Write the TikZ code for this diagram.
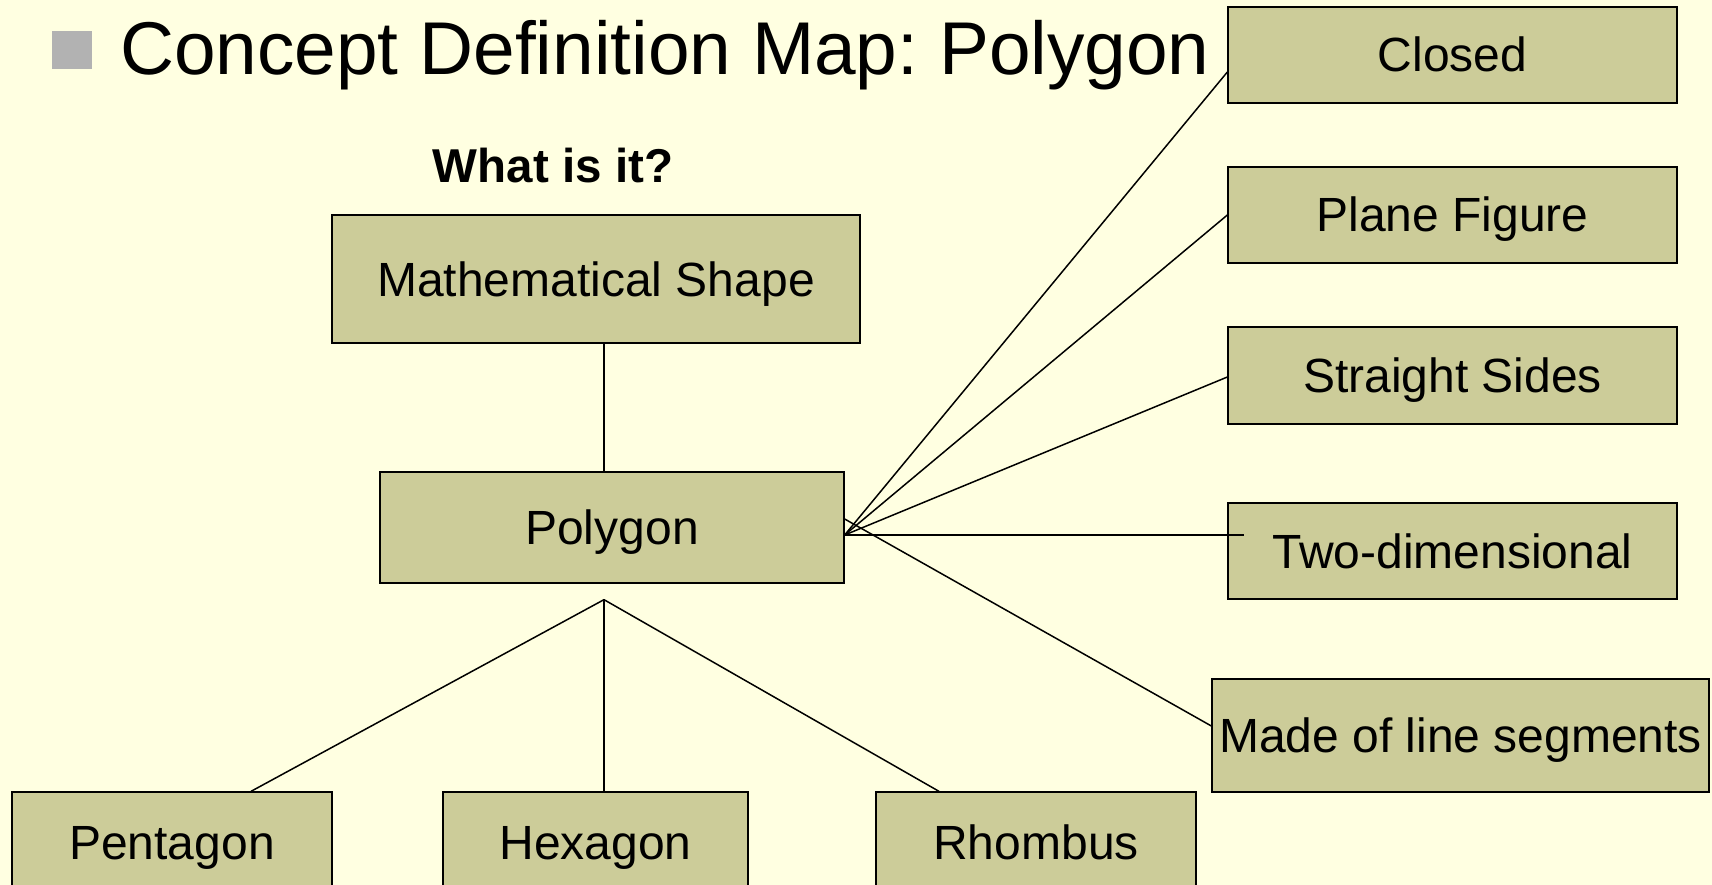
\documentclass[tikz,border=0pt]{standalone}
\usepackage{fontspec}
\setmainfont{Liberation Sans}
\frenchspacing
\definecolor{bgcol}{RGB}{255,255,225}
\definecolor{boxcol}{RGB}{204,204,153}
\definecolor{bulletcol}{RGB}{178,178,178}
\begin{document}
\begin{tikzpicture}[x=1pt,y=-1pt,
  box/.style={draw=black,line width=1.3pt,fill=boxcol,rectangle,inner sep=0pt,
    text height=34pt,text depth=0pt,
    font=\fontsize{48}{56}\selectfont,text=black},
  link/.style={draw=black,line width=1.5pt}]
\useasboundingbox (0,0) rectangle (1712,885);
\clip (0,0) rectangle (1712,885);
\fill[bgcol] (0,0) rectangle (1712,885);
% title
\fill[bulletcol] (52,31) rectangle (92,69);
\node[anchor=base west,inner sep=0pt,font=\fontsize{74.8}{88}\selectfont] (title) at (120,75) {Concept Definition Map: Polygon};
\node[anchor=base,inner sep=0pt,font=\fontsize{47.5}{54}\selectfont\bfseries] (what) at (553,183) {What is it?};
% boxes
\node[box,minimum width=528pt,minimum height=128pt] (math) at (596,279) {Mathematical Shape};
\node[box,minimum width=464pt,minimum height=111pt] (poly) at (612,527.5) {Polygon};
\node[box,minimum width=449pt,minimum height=96pt] (closed) at (1452.5,55) {Closed};
\node[box,minimum width=449pt,minimum height=96pt] (plane) at (1452.5,215) {Plane Figure};
\node[box,minimum width=449pt,minimum height=97pt] (straight) at (1452.5,375.5) {Straight Sides};
\node[box,minimum width=449pt,minimum height=96pt] (twod) at (1452.5,551) {Two-dimensional};
\node[box,minimum width=497pt,minimum height=113pt] (made) at (1460.5,735.5) {Made of line segments};
\node[box,minimum width=320pt,minimum height=100pt] (pent) at (172,842) {Pentagon};
\node[box,minimum width=305pt,minimum height=100pt] (hex) at (595.5,842) {Hexagon};
\node[box,minimum width=320pt,minimum height=100pt] (rhomb) at (1036,842) {Rhombus};
% connection points (yshift is upward on screen)
\coordinate (po) at ([yshift=-7.5pt]poly.east);
\coordinate (pm) at ([yshift=8.5pt]poly.east);
\coordinate (j) at ([xshift=-8pt,yshift=-16pt]poly.south);
% connectors
\draw[link] ([xshift=8pt]math.south) -- ([xshift=-8pt]poly.north);
\draw[link] (po) -- ([yshift=-17pt]closed.west);
\draw[link] (po) -- (plane.west);
\draw[link] (po) -- ([yshift=-1.5pt]straight.west);
\draw[link] (po) -- ([xshift=17pt,yshift=16pt]twod.west);
\draw[link] (pm) -- ([yshift=9.5pt]made.west);
\draw[link] (j) -- ([xshift=79pt]pent.north);
\draw[link] (j) -- ([xshift=8.5pt]hex.north);
\draw[link] (j) -- ([xshift=-97pt]rhomb.north);
\end{tikzpicture}
\end{document}
